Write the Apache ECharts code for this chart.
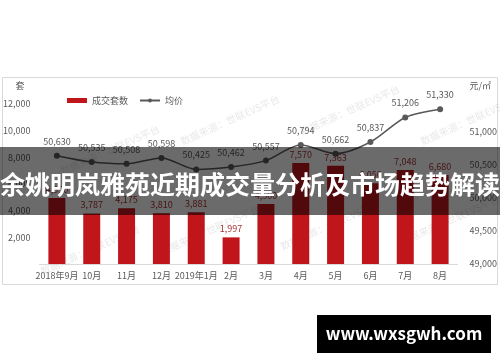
<!DOCTYPE html>
<html><head><meta charset="utf-8">
<script src="https://cdn.jsdelivr.net/npm/echarts@6/dist/echarts.min.js"></script>
<style>html,body{margin:0;padding:0;background:#fff}#c{width:500px;height:362px}</style>
</head><body><div id="c"></div>
<script>
const categories = ['2018年9月','10月','11月','12月','2019年1月','2月','3月','4月','5月','6月','7月','8月'];
const volumes = [4950, 3787, 4175, 3810, 3881, 1997, 4500, 7570, 7363, 6050, 7048, 6680];
const prices = [50630, 50535, 50508, 50598, 50425, 50462, 50557, 50794, 50662, 50837, 51206, 51330];
const leftTicks = [0, 2000, 4000, 6000, 8000, 10000, 12000];
const rightTicks = [49000, 49500, 50000, 50500, 51000];
const titleText = '余姚明岚雅苑近期成交量分析及市场趋势解读';
const siteText = 'www.wxsgwh.com';
const wmText = '数据来源：世联EVS平台';

const fmt = v => Number(v).toLocaleString('en-US');
const FF = '"Noto Sans CJK SC", "Noto Sans", sans-serif';
const chart = echarts.init(document.getElementById('c'), null, {renderer: 'canvas'});

const wmPos = [[110,150],[230,120],[350,110],[470,120],[90,250],[210,230],[330,225],[450,220]];
const watermarks = wmPos.map(p => ({
  type: 'text', x: p[0], y: p[1], rotation: Math.PI/7.5, z: 1,
  style: {text: wmText, fill: 'rgba(190,190,190,0.35)', font: '10px ' + FF, align: 'center', verticalAlign: 'middle'}
}));

chart.setOption({
  animation: false,
  backgroundColor: '#ffffff',
  textStyle: {fontFamily: FF},
  grid: {left: 36, right: 39, top: 98, bottom: 98},
  legend: {
    left: 62, top: 91, itemGap: 11, itemWidth: 20, itemHeight: 5,
    textStyle: {fontSize: 9, color: '#595959', fontFamily: FF},
    data: [{name: '成交套数', icon: 'rect'}, {name: '均价'}]
  },
  xAxis: {
    type: 'category', data: categories,
    axisLine: {lineStyle: {color: '#d9d9d9'}},
    axisTick: {show: false},
    axisLabel: {color: '#595959', fontSize: 9, margin: 7, interval: 0, fontFamily: FF}
  },
  yAxis: [{
    type: 'value', min: leftTicks[0], max: 12450, interval: 2000,
    name: '套', nameLocation: 'end', nameGap: 8,
    nameTextStyle: {color: '#595959', fontSize: 9, align: 'right', padding: [0, 15, 0, 0]},
    splitLine: {show: false}, axisLine: {show: false}, axisTick: {show: false},
    axisLabel: {color: '#595959', fontSize: 9, margin: 9, showMinLabel: false,
      formatter: v => leftTicks.includes(v) && v !== 0 ? fmt(v) : ''}
  }, {
    type: 'value', min: rightTicks[0], max: 51500, interval: 500,
    name: '元/㎡', nameLocation: 'end', nameGap: 8,
    nameTextStyle: {color: '#595959', fontSize: 9, align: 'left', padding: [0, 0, 0, 12]},
    splitLine: {show: false}, axisLine: {show: false}, axisTick: {show: false},
    axisLabel: {color: '#595959', fontSize: 9, margin: 12,
      formatter: v => rightTicks.includes(v) ? fmt(v) : ''}
  }],
  series: [{
    name: '成交套数', type: 'bar', data: volumes, barWidth: 17, yAxisIndex: 0,
    itemStyle: {color: '#C0161B'},
    label: {show: true, position: 'top', distance: 4, color: '#A83232', fontSize: 9, formatter: p => fmt(p.value)}
  }, {
    name: '均价', type: 'line', data: prices, yAxisIndex: 1, smooth: 0.3,
    symbol: 'circle', symbolSize: 6,
    lineStyle: {color: '#595959', width: 1.5}, itemStyle: {color: '#595959'},
    label: {show: true, position: 'top', distance: 7, color: '#595959', fontSize: 9, formatter: p => fmt(p.value)}
  }],
  graphic: [
    {type: 'rect', shape: {x: 2.5, y: 77.5, width: 495, height: 207}, style: {fill: 'none', stroke: '#d9d9d9', lineWidth: 1}, z: 0},
    ...watermarks,
    {type: 'rect', shape: {x: 0, y: 147, width: 500, height: 68}, style: {fill: 'rgba(0,0,0,0.58)'}, z: 100},
    {type: 'text', x: 250, y: 184, z: 101,
      style: {text: titleText, fill: '#ffffff', font: 'bold 25px ' + FF, align: 'center', verticalAlign: 'middle'}},
    {type: 'rect', shape: {x: 317, y: 315, width: 174, height: 38}, style: {fill: '#000000'}, z: 100},
    {type: 'text', x: 404, y: 334, z: 101,
      style: {text: siteText, fill: '#ffffff', font: 'bold 17px ' + FF, align: 'center', verticalAlign: 'middle'}}
  ]
});
</script></body></html>
